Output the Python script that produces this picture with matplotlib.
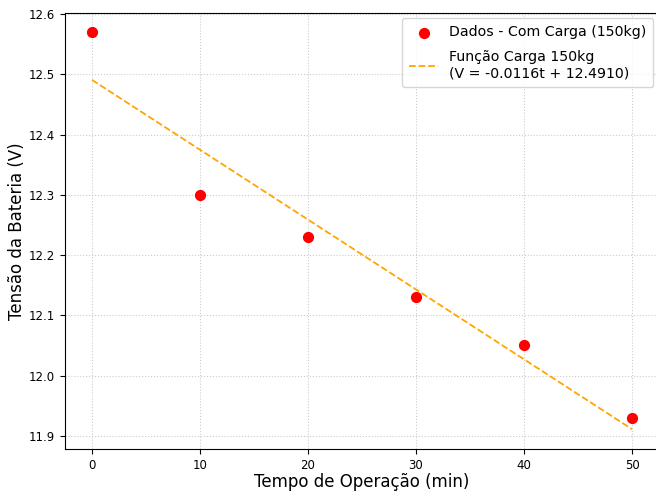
import matplotlib
matplotlib.use("Agg")
import matplotlib.pyplot as plt
import numpy as np

tempo = [0, 10, 20, 30, 40, 50]
tensao = [12.57, 12.30, 12.23, 12.13, 12.05, 11.93]
slope = -0.0116
intercept = 12.4910

fig = plt.figure(figsize=(6.56, 4.92), dpi=100)
ax = fig.add_axes([65/656, 1 - 449/492, 594/656, (449 - 12.5)/492])

ax.scatter(tempo, tensao, color='red', s=50, zorder=3, label='Dados - Com Carga (150kg)')
t = np.array([tempo[0], tempo[-1]])
ax.plot(t, slope * t + intercept, color='orange', linestyle='--', linewidth=1.3,
        label='Função Carga 150kg\n(V = -0.0116t + 12.4910)')

ax.set_xlabel('Tempo de Operação (min)', fontsize=12, labelpad=1)
ax.set_ylabel('Tensão da Bateria (V)', fontsize=12, labelpad=2)
ax.set_xticks([0, 10, 20, 30, 40, 50])
ax.set_yticks([11.9, 12.0, 12.1, 12.2, 12.3, 12.4, 12.5, 12.6])
ax.tick_params(labelsize=8.5)
ax.grid(True, linestyle=':', color='#cccccc', linewidth=0.8)
ax.legend(loc='upper right', fontsize=10.2, borderaxespad=0.4, labelspacing=0.75,
          borderpad=0.5)

fig.savefig('out.png', dpi=100)
